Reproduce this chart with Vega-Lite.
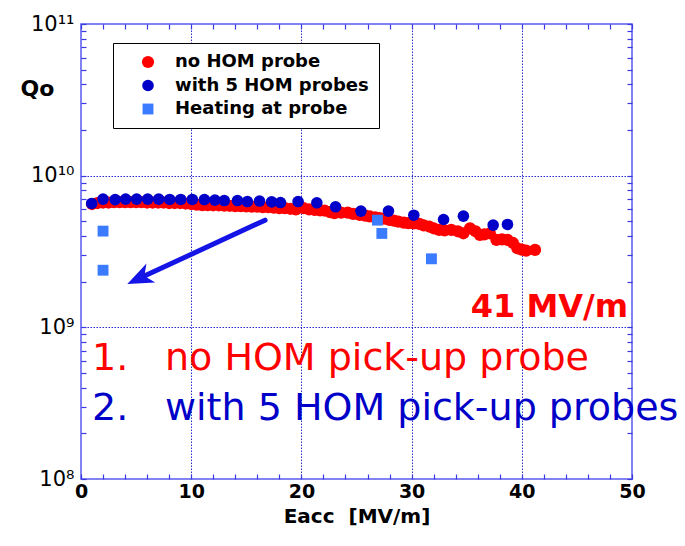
{
  "$schema": "https://vega.github.io/schema/vega-lite/v6.json",
  "width": 551,
  "height": 455,
  "autosize": "none",
  "padding": {"left": 81, "top": 24, "right": 53, "bottom": 67},
  "background": "white",
  "config": {
    "font": "DejaVu Sans",
    "view": {"stroke": "#5a5aee", "strokeWidth": 1.5},
    "axis": {"domain": false, "tickColor": "#3a3ae0", "tickWidth": 1.2}
  },
  "resolve": {"axis": {"x": "independent", "y": "independent"}},
  "layer": [
    {
      "data": {"values": [
        {"series": "no HOM probe", "x": 1.0, "q": 6.5e9},
        {"series": "no HOM probe", "x": 1.5, "q": 6.6e9},
        {"series": "no HOM probe", "x": 2.0, "q": 6.65e9},
        {"series": "no HOM probe", "x": 2.5, "q": 6.65e9},
        {"series": "no HOM probe", "x": 3.0, "q": 6.7e9},
        {"series": "no HOM probe", "x": 3.5, "q": 6.7e9},
        {"series": "no HOM probe", "x": 4.0, "q": 6.7e9},
        {"series": "no HOM probe", "x": 4.5, "q": 6.7e9},
        {"series": "no HOM probe", "x": 5.0, "q": 6.7e9},
        {"series": "no HOM probe", "x": 5.5, "q": 6.7e9},
        {"series": "no HOM probe", "x": 6.0, "q": 6.65e9},
        {"series": "no HOM probe", "x": 6.5, "q": 6.65e9},
        {"series": "no HOM probe", "x": 7.0, "q": 6.65e9},
        {"series": "no HOM probe", "x": 7.5, "q": 6.65e9},
        {"series": "no HOM probe", "x": 8.0, "q": 6.6e9},
        {"series": "no HOM probe", "x": 8.5, "q": 6.6e9},
        {"series": "no HOM probe", "x": 9.0, "q": 6.6e9},
        {"series": "no HOM probe", "x": 9.5, "q": 6.55e9},
        {"series": "no HOM probe", "x": 10.0, "q": 6.5e9},
        {"series": "no HOM probe", "x": 10.5, "q": 6.45e9},
        {"series": "no HOM probe", "x": 11.0, "q": 6.4e9},
        {"series": "no HOM probe", "x": 11.5, "q": 6.4e9},
        {"series": "no HOM probe", "x": 12.0, "q": 6.38e9},
        {"series": "no HOM probe", "x": 12.5, "q": 6.38e9},
        {"series": "no HOM probe", "x": 13.0, "q": 6.35e9},
        {"series": "no HOM probe", "x": 13.5, "q": 6.33e9},
        {"series": "no HOM probe", "x": 14.0, "q": 6.3e9},
        {"series": "no HOM probe", "x": 14.5, "q": 6.3e9},
        {"series": "no HOM probe", "x": 15.0, "q": 6.28e9},
        {"series": "no HOM probe", "x": 15.5, "q": 6.25e9},
        {"series": "no HOM probe", "x": 16.0, "q": 6.25e9},
        {"series": "no HOM probe", "x": 16.5, "q": 6.2e9},
        {"series": "no HOM probe", "x": 17.0, "q": 6.2e9},
        {"series": "no HOM probe", "x": 17.5, "q": 6.15e9},
        {"series": "no HOM probe", "x": 18.0, "q": 6.1e9},
        {"series": "no HOM probe", "x": 18.5, "q": 6.1e9},
        {"series": "no HOM probe", "x": 19.0, "q": 6.05e9},
        {"series": "no HOM probe", "x": 19.5, "q": 6.0e9},
        {"series": "no HOM probe", "x": 20.2, "q": 6.1e9},
        {"series": "no HOM probe", "x": 20.7, "q": 6.0e9},
        {"series": "no HOM probe", "x": 21.2, "q": 5.95e9},
        {"series": "no HOM probe", "x": 21.7, "q": 5.9e9},
        {"series": "no HOM probe", "x": 22.1, "q": 5.89e9},
        {"series": "no HOM probe", "x": 22.6, "q": 5.75e9},
        {"series": "no HOM probe", "x": 23.0, "q": 5.66e9},
        {"series": "no HOM probe", "x": 23.6, "q": 5.7e9},
        {"series": "no HOM probe", "x": 24.2, "q": 5.71e9},
        {"series": "no HOM probe", "x": 24.7, "q": 5.6e9},
        {"series": "no HOM probe", "x": 25.3, "q": 5.52e9},
        {"series": "no HOM probe", "x": 25.8, "q": 5.45e9},
        {"series": "no HOM probe", "x": 26.2, "q": 5.38e9},
        {"series": "no HOM probe", "x": 26.7, "q": 5.3e9},
        {"series": "no HOM probe", "x": 27.1, "q": 5.25e9},
        {"series": "no HOM probe", "x": 27.5, "q": 5.2e9},
        {"series": "no HOM probe", "x": 28.0, "q": 5.11e9},
        {"series": "no HOM probe", "x": 28.4, "q": 5.05e9},
        {"series": "no HOM probe", "x": 28.8, "q": 4.98e9},
        {"series": "no HOM probe", "x": 29.3, "q": 4.9e9},
        {"series": "no HOM probe", "x": 29.7, "q": 4.86e9},
        {"series": "no HOM probe", "x": 30.2, "q": 4.85e9},
        {"series": "no HOM probe", "x": 30.7, "q": 4.81e9},
        {"series": "no HOM probe", "x": 31.1, "q": 4.7e9},
        {"series": "no HOM probe", "x": 31.6, "q": 4.62e9},
        {"series": "no HOM probe", "x": 32.0, "q": 4.5e9},
        {"series": "no HOM probe", "x": 32.5, "q": 4.39e9},
        {"series": "no HOM probe", "x": 33.0, "q": 4.35e9},
        {"series": "no HOM probe", "x": 33.6, "q": 4.39e9},
        {"series": "no HOM probe", "x": 34.2, "q": 4.3e9},
        {"series": "no HOM probe", "x": 34.7, "q": 4.17e9},
        {"series": "no HOM probe", "x": 35.3, "q": 4.5e9},
        {"series": "no HOM probe", "x": 35.8, "q": 4.3e9},
        {"series": "no HOM probe", "x": 36.2, "q": 4.07e9},
        {"series": "no HOM probe", "x": 36.6, "q": 4.1e9},
        {"series": "no HOM probe", "x": 37.1, "q": 4.17e9},
        {"series": "no HOM probe", "x": 37.7, "q": 3.77e9},
        {"series": "no HOM probe", "x": 38.2, "q": 3.8e9},
        {"series": "no HOM probe", "x": 38.7, "q": 3.77e9},
        {"series": "no HOM probe", "x": 39.2, "q": 3.6e9},
        {"series": "no HOM probe", "x": 39.6, "q": 3.32e9},
        {"series": "no HOM probe", "x": 40.0, "q": 3.25e9},
        {"series": "no HOM probe", "x": 40.4, "q": 3.2e9},
        {"series": "no HOM probe", "x": 41.2, "q": 3.24e9},
        {"series": "with 5 HOM probes", "x": 0.97, "q": 6.56e9},
        {"series": "with 5 HOM probes", "x": 2.0, "q": 7.0e9},
        {"series": "with 5 HOM probes", "x": 3.1, "q": 6.95e9},
        {"series": "with 5 HOM probes", "x": 4.05, "q": 7.0e9},
        {"series": "with 5 HOM probes", "x": 5.05, "q": 7.0e9},
        {"series": "with 5 HOM probes", "x": 6.05, "q": 7.0e9},
        {"series": "with 5 HOM probes", "x": 7.05, "q": 7.0e9},
        {"series": "with 5 HOM probes", "x": 8.05, "q": 6.97e9},
        {"series": "with 5 HOM probes", "x": 9.05, "q": 6.97e9},
        {"series": "with 5 HOM probes", "x": 10.1, "q": 6.97e9},
        {"series": "with 5 HOM probes", "x": 11.2, "q": 6.95e9},
        {"series": "with 5 HOM probes", "x": 12.15, "q": 6.9e9},
        {"series": "with 5 HOM probes", "x": 13.0, "q": 6.85e9},
        {"series": "with 5 HOM probes", "x": 14.2, "q": 6.85e9},
        {"series": "with 5 HOM probes", "x": 15.1, "q": 6.75e9},
        {"series": "with 5 HOM probes", "x": 16.2, "q": 6.8e9},
        {"series": "with 5 HOM probes", "x": 17.3, "q": 6.72e9},
        {"series": "with 5 HOM probes", "x": 18.1, "q": 6.65e9},
        {"series": "with 5 HOM probes", "x": 19.7, "q": 6.75e9},
        {"series": "with 5 HOM probes", "x": 21.4, "q": 6.62e9},
        {"series": "with 5 HOM probes", "x": 23.1, "q": 6.23e9},
        {"series": "with 5 HOM probes", "x": 25.4, "q": 5.84e9},
        {"series": "with 5 HOM probes", "x": 27.9, "q": 5.84e9},
        {"series": "with 5 HOM probes", "x": 30.2, "q": 5.49e9},
        {"series": "with 5 HOM probes", "x": 32.9, "q": 5.14e9},
        {"series": "with 5 HOM probes", "x": 34.7, "q": 5.41e9},
        {"series": "with 5 HOM probes", "x": 37.4, "q": 4.72e9},
        {"series": "with 5 HOM probes", "x": 38.7, "q": 4.77e9},
        {"series": "Heating at probe", "x": 2.0, "q": 4.31e9},
        {"series": "Heating at probe", "x": 2.0, "q": 2.38e9},
        {"series": "Heating at probe", "x": 26.9, "q": 5.09e9},
        {"series": "Heating at probe", "x": 27.3, "q": 4.16e9},
        {"series": "Heating at probe", "x": 31.8, "q": 2.83e9}
      ]},
      "mark": {"type": "point", "filled": true, "opacity": 1},
      "encoding": {
        "x": {
          "field": "x", "type": "quantitative",
          "scale": {"domain": [0, 50], "nice": false, "zero": false},
          "axis": {
            "orient": "bottom",
            "values": [0, 2, 4, 6, 8, 10, 12, 14, 16, 18, 20, 22, 24, 26, 28, 30, 32, 34, 36, 38, 40, 42, 44, 46, 48, 50],
            "labelExpr": "datum.value % 10 === 0 ? datum.label : ''",
            "labelOverlap": false,
            "labelFlush": false,
            "labelFont": "DejaVu Sans",
            "labelFontWeight": "bold",
            "labelFontSize": 19,
            "labelColor": "black",
            "labelPadding": 8,
            "tickSize": -5,
            "grid": true,
            "gridColor": "#2a2ad0",
            "gridDash": [1.5, 1.5],
            "gridWidth": 1,
            "gridOpacity": {"condition": {"test": "datum.value % 10 === 0 && datum.value > 0 && datum.value < 50", "value": 1}, "value": 0},
            "title": "Eacc\u00a0\u00a0[MV/m]",
            "titleFont": "DejaVu Sans",
            "titleFontWeight": "bold",
            "titleFontSize": 20,
            "titleColor": "black",
            "titlePadding": 5
          }
        },
        "y": {
          "field": "q", "type": "quantitative",
          "scale": {"type": "log", "domain": [1e8, 1e11], "nice": false},
          "axis": {
            "orient": "left",
            "values": [1e8, 2e8, 3e8, 4e8, 5e8, 6e8, 7e8, 8e8, 9e8, 1e9, 2e9, 3e9, 4e9, 5e9, 6e9, 7e9, 8e9, 9e9, 1e10, 2e10, 3e10, 4e10, 5e10, 6e10, 7e10, 8e10, 9e10, 1e11],
            "labelExpr": "datum.value === 1e11 ? '10¹¹' : datum.value === 1e10 ? '10¹⁰' : datum.value === 1e9 ? '10⁹' : datum.value === 1e8 ? '10⁸' : ''",
            "labelOverlap": false,
            "labelFlush": false,
            "labelFont": "DejaVu Sans",
            "labelFontSize": 21,
            "labelColor": "black",
            "labelPadding": 12,
            "tickSize": -5,
            "grid": true,
            "gridColor": "#2a2ad0",
            "gridDash": [1.5, 1.5],
            "gridWidth": 1,
            "gridOpacity": {"condition": {"test": "datum.value === 1e9 || datum.value === 1e10", "value": 1}, "value": 0},
            "title": "Qo",
            "titleAngle": 0,
            "titleX": -44,
            "titleY": 64,
            "titleAlign": "center",
            "titleBaseline": "middle",
            "titleFont": "DejaVu Sans",
            "titleFontWeight": "bold",
            "titleFontSize": 22,
            "titleColor": "black"
          }
        },
        "color": {
          "field": "series", "type": "nominal",
          "scale": {"domain": ["no HOM probe", "with 5 HOM probes", "Heating at probe"], "range": ["#ff0000", "#0000c8", "#3a7bff"]},
          "legend": {
            "orient": "none",
            "legendX": 32,
            "legendY": 19,
            "title": null,
            "strokeColor": "black",
            "fillColor": "white",
            "padding": 10,
            "symbolOffset": 16,
            "labelOffset": 18,
            "labelFont": "DejaVu Sans",
            "labelFontWeight": "bold",
            "labelFontSize": 18,
            "rowPadding": 5.5,
            "labelLimit": 400,
            "encode": {"labels": {"update": {"fill": {"signal": "datum.value === 'no HOM probe' ? '#ff0000' : datum.value === 'with 5 HOM probes' ? '#0000c8' : '#3a7bff'"}}}}
          }
        },
        "shape": {
          "field": "series", "type": "nominal",
          "scale": {"domain": ["no HOM probe", "with 5 HOM probes", "Heating at probe"], "range": ["circle", "circle", "square"]}
        },
        "size": {
          "field": "series", "type": "nominal",
          "scale": {"domain": ["no HOM probe", "with 5 HOM probes", "Heating at probe"], "range": [150, 118, 18]}
        }
      }
    },
    {
      "data": {"values": [{"x": 16.7, "q": 5.09e9, "x2": 5.4, "q2": 2.12e9}]},
      "mark": {"type": "rule", "color": "#1414e6", "strokeWidth": 5, "strokeCap": "round"},
      "encoding": {
        "x": {
          "field": "x", "type": "quantitative",
          "axis": {
            "orient": "top",
            "values": [0, 2, 4, 6, 8, 10, 12, 14, 16, 18, 20, 22, 24, 26, 28, 30, 32, 34, 36, 38, 40, 42, 44, 46, 48, 50],
            "labels": false, "title": null, "grid": false, "tickSize": -5
          }
        },
        "y": {
          "field": "q", "type": "quantitative",
          "axis": {
            "orient": "right",
            "values": [1e8, 2e8, 3e8, 4e8, 5e8, 6e8, 7e8, 8e8, 9e8, 1e9, 2e9, 3e9, 4e9, 5e9, 6e9, 7e9, 8e9, 9e9, 1e10, 2e10, 3e10, 4e10, 5e10, 6e10, 7e10, 8e10, 9e10, 1e11],
            "labels": false, "title": null, "grid": false, "tickSize": -5
          }
        },
        "x2": {"field": "x2"},
        "y2": {"field": "q2"}
      }
    },
    {
      "data": {"values": [{"x": 5.27, "q": 2.1e9}]},
      "mark": {"type": "point", "filled": true, "color": "#1414e6", "opacity": 1, "shape": "M1,0 L-1,-0.8 L-0.45,0 L-1,0.8 Z", "size": 676, "angle": 155},
      "encoding": {
        "x": {"field": "x", "type": "quantitative", "axis": null},
        "y": {"field": "q", "type": "quantitative", "axis": null}
      }
    },
    {
      "data": {"values": [{"text": "1.", "x": 1.0, "q": 5.23e8}, {"text": "no HOM pick-up probe", "x": 7.62, "q": 5.23e8}]},
      "mark": {"type": "text", "align": "left", "baseline": "alphabetic", "font": "DejaVu Sans", "fontSize": 38, "color": "#ff0000"},
      "encoding": {
        "x": {"field": "x", "type": "quantitative", "axis": null},
        "y": {"field": "q", "type": "quantitative", "axis": null},
        "text": {"field": "text"}
      }
    },
    {
      "data": {"values": [{"text": "2.", "x": 1.0, "q": 2.45e8}, {"text": "with 5 HOM pick-up probes", "x": 7.62, "q": 2.45e8}]},
      "mark": {"type": "text", "align": "left", "baseline": "alphabetic", "font": "DejaVu Sans", "fontSize": 38, "color": "#0000c8"},
      "encoding": {
        "x": {"field": "x", "type": "quantitative", "axis": null},
        "y": {"field": "q", "type": "quantitative", "axis": null},
        "text": {"field": "text"}
      }
    },
    {
      "data": {"values": [{"text": "41 MV/m", "x": 49.64, "q": 1.17e9}]},
      "mark": {"type": "text", "align": "right", "baseline": "alphabetic", "font": "DejaVu Sans", "fontWeight": "bold", "fontSize": 32, "color": "#ff0000"},
      "encoding": {
        "x": {"field": "x", "type": "quantitative", "axis": null},
        "y": {"field": "q", "type": "quantitative", "axis": null},
        "text": {"field": "text"}
      }
    }
  ]
}
